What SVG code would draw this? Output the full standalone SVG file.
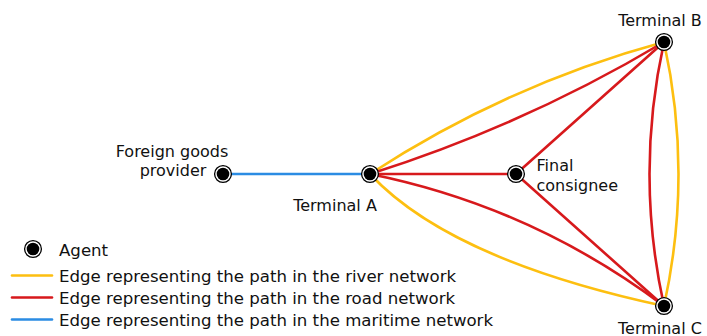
<svg xmlns="http://www.w3.org/2000/svg" width="707" height="336" viewBox="0 0 707 336">
<style>
.e{fill:none;stroke-width:2.6;stroke-linecap:round}
.river{stroke:#FDBF10}
.road{stroke:#D7191C}
.sea{stroke:#2B8CE3}
.ring{fill:#fff;stroke:#000;stroke-width:1.3}
.core{fill:#000}
text{font-family:"DejaVu Sans",sans-serif;fill:#111}
.lbl{font-size:16px}
.leg{font-size:16.6px}
</style>
<defs>
<g id="agent"><circle class="ring" r="8.4"/><circle class="core" r="6.3"/></g>
</defs>
<rect width="707" height="336" fill="#fff"/>
<g id="connectors">
<path class="e sea" d="M223,174 L370,174"/>
<path class="e road" d="M370,174 L516,174"/>
<path class="e river" d="M370,174 Q507,84.6 664,42"/>
<path class="e road" d="M370,174 Q525,125 664,42"/>
<path class="e road" d="M516,174 L664,42"/>
<path class="e river" d="M370,174 Q450,260 664,306"/>
<path class="e road" d="M370,174 Q532,206.7 664,306"/>
<path class="e road" d="M516,174 L664,306"/>
<path class="e road" d="M664,42 Q635,174 664,306"/>
<path class="e river" d="M664,42 Q693,174 664,306"/>
</g>
<g id="node-foreign"><use href="#agent" x="223" y="174"/><text class="lbl" text-anchor="middle" x="172" y="157">Foreign goods</text><text class="lbl" text-anchor="middle" x="173" y="176">provider</text></g>
<g id="node-terminal-a"><use href="#agent" x="370" y="174"/><text class="lbl" text-anchor="middle" x="335" y="210.5">Terminal A</text></g>
<g id="node-final"><use href="#agent" x="516" y="174"/><text class="lbl" x="536.5" y="171">Final</text><text class="lbl" x="536.5" y="190.5">consignee</text></g>
<g id="node-terminal-b"><use href="#agent" x="664" y="42"/><text class="lbl" text-anchor="middle" x="660" y="26">Terminal B</text></g>
<g id="node-terminal-c"><use href="#agent" x="664" y="306"/><text class="lbl" x="618" y="333.5">Terminal C</text></g>
<g id="legend">
<use href="#agent" x="33" y="249"/>
<text class="leg" x="59" y="255.5">Agent</text>
<path class="e river" d="M12,275.5 L52,275.5" stroke-linecap="butt"/>
<text class="leg" x="59" y="282.3">Edge representing the path in the river network</text>
<path class="e road" d="M12,297.5 L52,297.5" stroke-linecap="butt"/>
<text class="leg" x="59" y="304">Edge representing the path in the road network</text>
<path class="e sea" d="M12,319.5 L52,319.5" stroke-linecap="butt"/>
<text class="leg" x="59" y="326">Edge representing the path in the maritime network</text>
</g>
</svg>
